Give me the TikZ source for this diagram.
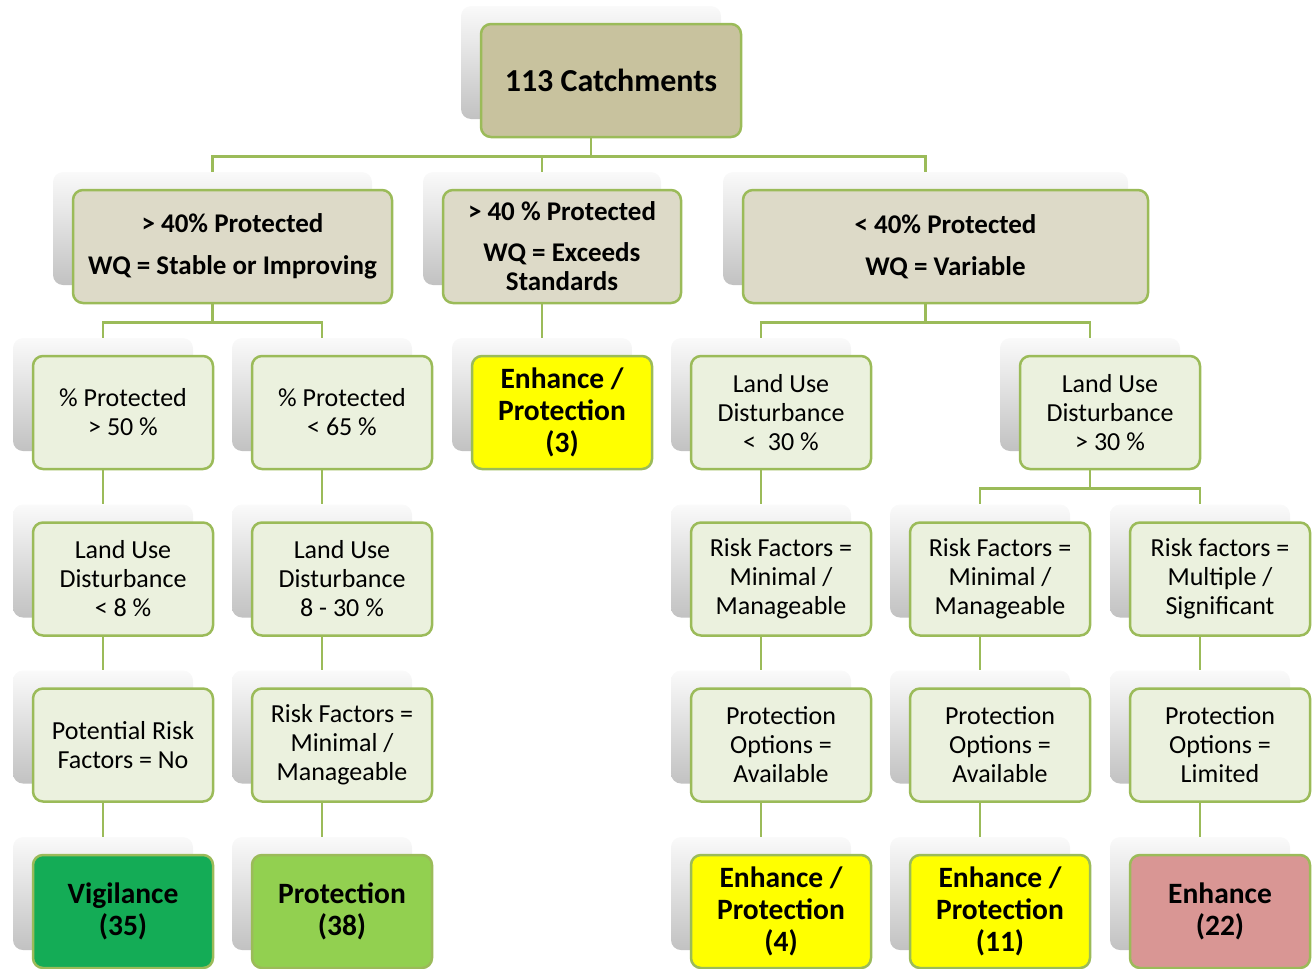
\documentclass[tikz,border=0pt]{standalone}
\usepackage{fontspec}
\setmainfont{Carlito}
\usetikzlibrary{calc}
\definecolor{bordergreen}{RGB}{155,187,89}
\definecolor{khakifill}{RGB}{200,194,158}
\definecolor{beigefill}{RGB}{221,218,200}
\definecolor{lgreenfill}{RGB}{235,241,222}
\definecolor{vigfill}{RGB}{20,172,86}
\definecolor{protfill}{RGB}{146,208,80}
\definecolor{yelfill}{RGB}{255,255,0}
\definecolor{pinkfill}{RGB}{217,150,148}
\newcommand{\mkbox}[7]{%
  \node[shadowbox, minimum width=#4pt, minimum height=#5pt] (#1s) at (#2-20,#3-18) {};
  \node[#6, minimum width=#4pt, minimum height=#5pt] (#1) at (#2,#3) {#7};
}
\begin{document}
\begin{tikzpicture}[x=1pt,y=-1pt,
  shadowbox/.style={rounded corners=10pt, top color=black!2, bottom color=black!24, draw=none, inner sep=0pt},
  base/.style={rounded corners=10pt, draw=bordergreen, line width=2.5pt, align=center, inner sep=0pt},
  khaki/.style={base, fill=khakifill, font=\fontsize{32}{37}\selectfont\bfseries},
  beige/.style={base, fill=beigefill, font=\fontsize{27}{29}\selectfont\bfseries},
  lgreen/.style={base, fill=lgreenfill, font=\fontsize{26}{29}\selectfont},
  res/.style={base, font=\fontsize{29.5}{32}\selectfont\bfseries},
  conn/.style={draw=bordergreen, line width=2.5pt}]
\useasboundingbox (0,0) rectangle (1312,969);

\mkbox{T}{611}{80.5}{260}{113}{khaki}{113 Catchments}
\mkbox{A}{232.5}{246.5}{319}{113}{beige}{> 40\% Protected\\[13pt]WQ = Stable or Improving}
\mkbox{B}{562}{246.5}{238}{113}{beige}{> 40 \% Protected\\[12pt]WQ = Exceeds\\Standards}
\mkbox{C}{945.5}{246.5}{405}{113}{beige}{< 40\% Protected\\[13pt]WQ = Variable}

\mkbox{P1}{123}{412.5}{180}{113}{lgreen}{\% Protected\\> 50 \%}
\mkbox{P2}{342}{412.5}{180}{113}{lgreen}{\% Protected\\< 65 \%}
\mkbox{E3}{562}{412.5}{180}{113}{res, fill=yelfill}{Enhance /\\Protection\\(3)}
\mkbox{R1}{781}{412.5}{180}{113}{lgreen}{Land Use\\Disturbance\\<\ \ 30 \%}
\mkbox{R2}{1110}{412.5}{180}{113}{lgreen}{Land Use\\Disturbance\\> 30 \%}

\mkbox{L1}{123}{579}{180}{113}{lgreen}{Land Use\\Disturbance\\< 8 \%}
\mkbox{L2}{342}{579}{180}{113}{lgreen}{Land Use\\Disturbance\\8 - 30 \%}
\mkbox{K1}{781}{579}{180}{113}{lgreen}{Risk Factors =\\Minimal /\\Manageable}
\mkbox{K2}{1000}{579}{180}{113}{lgreen}{Risk Factors =\\Minimal /\\Manageable}
\mkbox{K3}{1220}{579}{180}{113}{lgreen}{Risk factors =\\Multiple /\\Significant}

\mkbox{F1}{123}{745}{180}{113}{lgreen}{Potential Risk\\Factors = No}
\mkbox{F2}{342}{745}{180}{113}{lgreen}{Risk Factors =\\Minimal /\\Manageable}
\mkbox{O1}{781}{745}{180}{113}{lgreen}{Protection\\Options =\\Available}
\mkbox{O2}{1000}{745}{180}{113}{lgreen}{Protection\\Options =\\Available}
\mkbox{O3}{1220}{745}{180}{113}{lgreen}{Protection\\Options =\\Limited}

\mkbox{V}{123}{911.5}{180}{113}{res, fill=vigfill}{Vigilance\\(35)}
\mkbox{Pr}{342}{911.5}{180}{113}{res, fill=protfill}{Protection\\(38)}
\mkbox{X1}{781}{911.5}{180}{113}{res, fill=yelfill}{Enhance /\\Protection\\(4)}
\mkbox{X2}{1000}{911.5}{180}{113}{res, fill=yelfill}{Enhance /\\Protection\\(11)}
\mkbox{X3}{1220}{911.5}{180}{113}{res, fill=pinkfill}{Enhance\\(22)}

% connectors
\draw[conn] (Ts.center |- T.south) -- ++(0,18) -| (As.north);
\draw[conn] (Ts.center |- T.south) -- ++(0,18) -| (Bs.north);
\draw[conn] (Ts.center |- T.south) -- ++(0,18) -| (Cs.north);
\draw[conn] (As.center |- A.south) -- ++(0,18) -| (P1s.north);
\draw[conn] (As.center |- A.south) -- ++(0,18) -| (P2s.north);
\draw[conn] (Bs.center |- B.south) -- (E3s.north);
\draw[conn] (Cs.center |- C.south) -- ++(0,18) -| (R1s.north);
\draw[conn] (Cs.center |- C.south) -- ++(0,18) -| (R2s.north);
\draw[conn] (R2s.center |- R2.south) -- ++(0,18) -| (K2s.north);
\draw[conn] (R2s.center |- R2.south) -- ++(0,18) -| (K3s.north);
\draw[conn] (P1s.center |- P1.south) -- (L1s.north);
\draw[conn] (L1s.center |- L1.south) -- (F1s.north);
\draw[conn] (F1s.center |- F1.south) -- (Vs.north);
\draw[conn] (P2s.center |- P2.south) -- (L2s.north);
\draw[conn] (L2s.center |- L2.south) -- (F2s.north);
\draw[conn] (F2s.center |- F2.south) -- (Prs.north);
\draw[conn] (R1s.center |- R1.south) -- (K1s.north);
\draw[conn] (K1s.center |- K1.south) -- (O1s.north);
\draw[conn] (O1s.center |- O1.south) -- (X1s.north);
\draw[conn] (K2s.center |- K2.south) -- (O2s.north);
\draw[conn] (O2s.center |- O2.south) -- (X2s.north);
\draw[conn] (K3s.center |- K3.south) -- (O3s.north);
\draw[conn] (O3s.center |- O3.south) -- (X3s.north);
\end{tikzpicture}
\end{document}
